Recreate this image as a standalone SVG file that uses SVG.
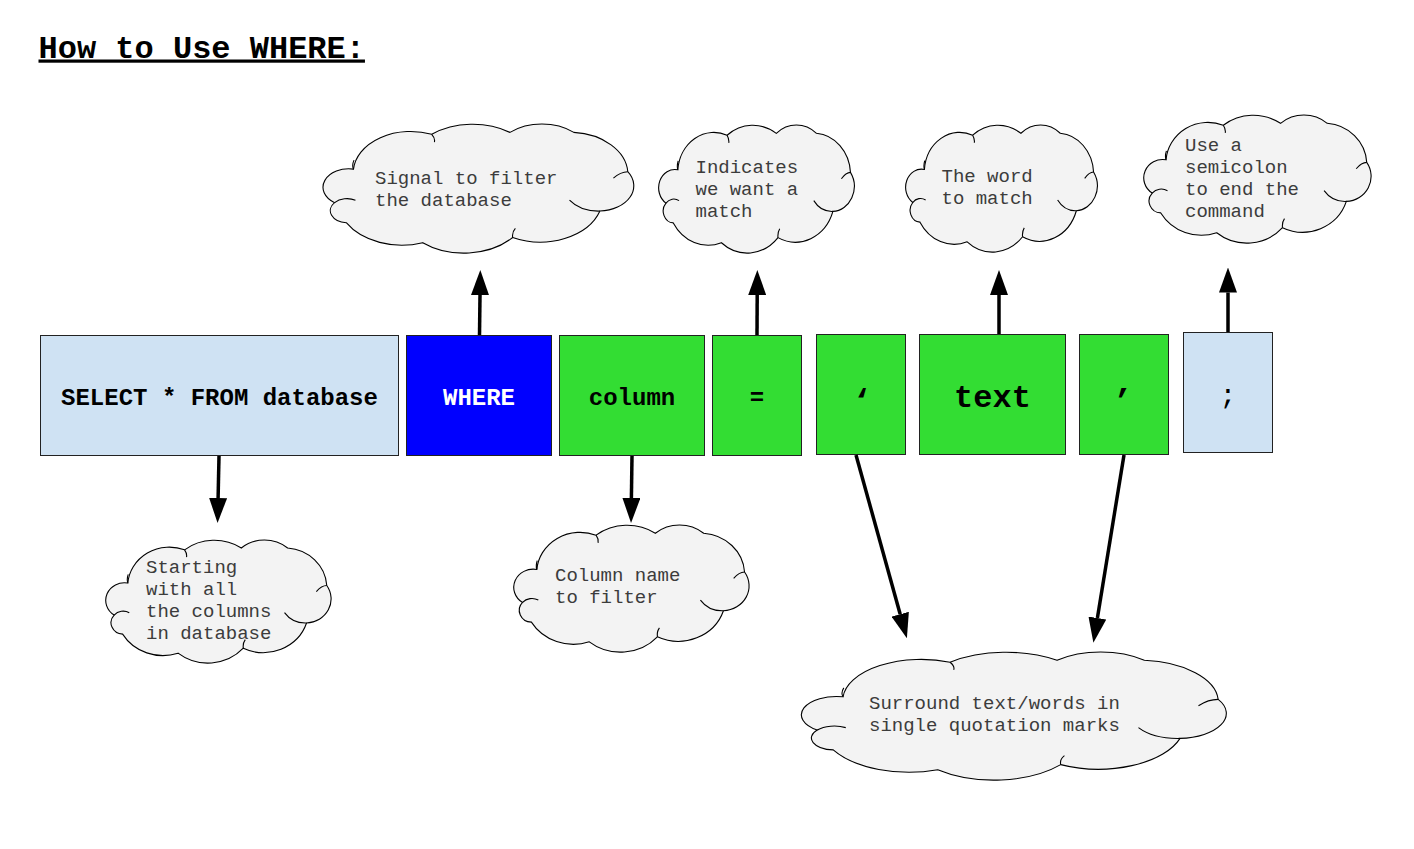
<svg xmlns="http://www.w3.org/2000/svg" xmlns:xlink="http://www.w3.org/1999/xlink" width="1414" height="849" viewBox="0 0 1414 849">
<style>
  .title{font-family:"Liberation Mono","Courier New",monospace;font-weight:bold;font-size:32px;fill:#000;text-decoration:underline}
  .lbl{font-family:"Liberation Mono","Courier New",monospace;font-weight:bold;font-size:24px;text-anchor:middle;fill:#000}
  .big{font-size:32px}
  .note{font-family:"Liberation Mono","Courier New",monospace;font-size:19px;fill:#3c3c3c}
  .box{stroke:#222;stroke-width:1}
  .lblue{fill:#cfe2f3}
  .blue{fill:#0000ff}
  .green{fill:#33dd33}
  .conn line{stroke:#000;stroke-width:3.5;marker-end:url(#ah)}
  .cloud-o{fill:#f3f3f3;stroke:#000;stroke-width:1.1}
  .cloud-t{fill:none;stroke:#000;stroke-width:1.1}
</style>
<defs>
  <marker id="ah" markerUnits="userSpaceOnUse" viewBox="0 0 25 18" markerWidth="25" markerHeight="18" refX="0" refY="9" orient="auto">
    <path d="M0,0 L25,9 L0,18 Z" fill="#000"/>
  </marker>
  <symbol id="cloud" viewBox="0 0 174 100" preserveAspectRatio="none" overflow="visible">
    <path class="cloud-o" vector-effect="non-scaling-stroke" d="M17.5 35 A31.9 31.9 0 0 1 61 8 A37.3 37.3 0 0 1 104.5 6.5 A27.5 27.5 0 0 1 140 6.5 A32.6 32.6 0 0 1 170 37 A19.6 19.6 0 0 1 154.5 67.5 A34.9 34.9 0 0 1 106 88 A36.5 36.5 0 0 1 56 92 A36 36 0 0 1 13.5 76.5 A9.3 9.3 0 0 1 7 61 A14.3 14.3 0 0 1 17.5 35 Z"/>
    <path class="cloud-t" vector-effect="non-scaling-stroke" d="M154.5 67.5 A19.6 19.6 0 0 1 137.6 59.1 M7 61 A9.3 9.3 0 0 1 18.6 59.1 M17.5 35 Q16.5 32 17.8 28 M106 88 Q105.5 84 107.5 81 M61 8 Q63 11 62.5 14 M170 37 Q166 37 162 42"/>
  </symbol>
</defs>

<rect x="0" y="0" width="1414" height="849" fill="#ffffff"/>

<g id="title">
  <text class="title" x="38.5" y="57.5">How to Use WHERE:</text>
</g>

<g id="node-select">
  <rect class="box lblue" x="40.5" y="335.5" width="358" height="120"/>
  <text class="lbl" x="219.5" y="405">SELECT * FROM database</text>
</g>
<g id="node-where">
  <rect class="box blue" x="406.5" y="335.5" width="145" height="120"/>
  <text class="lbl" x="479" y="405" style="fill:#ffffff">WHERE</text>
</g>
<g id="node-column">
  <rect class="box green" x="559.5" y="335.5" width="145" height="120"/>
  <text class="lbl" x="632" y="405">column</text>
</g>
<g id="node-equals">
  <rect class="box green" x="712.5" y="335.5" width="89" height="120"/>
  <text class="lbl" x="757" y="405">=</text>
</g>
<g id="node-quote-open">
  <rect class="box green" x="816.5" y="334.5" width="89" height="120"/>
  <text class="lbl big" x="862" y="411">‘</text>
</g>
<g id="node-text">
  <rect class="box green" x="919.5" y="334.5" width="146" height="120"/>
  <text class="lbl big" x="992.5" y="407">text</text>
</g>
<g id="node-quote-close">
  <rect class="box green" x="1079.5" y="334.5" width="89" height="120"/>
  <text class="lbl big" x="1122.5" y="411">’</text>
</g>
<g id="node-semicolon">
  <rect class="box lblue" x="1183.5" y="332.5" width="89" height="120"/>
  <text class="lbl" x="1228" y="404" style="font-weight:normal;font-size:28px">;</text>
</g>

<g id="cloud-signal">
  <use xlink:href="#cloud" href="#cloud" x="322" y="124" width="313" height="129"/>
  <text class="note"><tspan x="375" y="184">Signal to filter</tspan><tspan x="375" y="206">the database</tspan></text>
</g>
<g id="cloud-indicates">
  <use xlink:href="#cloud" href="#cloud" x="658" y="125" width="197" height="128"/>
  <text class="note"><tspan x="695.5" y="172.5">Indicates</tspan><tspan x="695.5" y="194.5">we want a</tspan><tspan x="695.5" y="216.5">match</tspan></text>
</g>
<g id="cloud-word">
  <use xlink:href="#cloud" href="#cloud" x="905" y="125" width="193" height="127"/>
  <text class="note"><tspan x="941.5" y="182">The word</tspan><tspan x="941.5" y="204">to match</tspan></text>
</g>
<g id="cloud-semicolon">
  <use xlink:href="#cloud" href="#cloud" x="1143" y="115" width="229" height="128"/>
  <text class="note"><tspan x="1185" y="151">Use a</tspan><tspan x="1185" y="173">semicolon</tspan><tspan x="1185" y="195">to end the</tspan><tspan x="1185" y="217">command</tspan></text>
</g>
<g id="cloud-starting">
  <use xlink:href="#cloud" href="#cloud" x="105" y="540" width="227" height="123"/>
  <text class="note"><tspan x="146" y="573">Starting</tspan><tspan x="146" y="595">with all</tspan><tspan x="146" y="617">the columns</tspan><tspan x="146" y="639">in database</tspan></text>
</g>
<g id="cloud-column">
  <use xlink:href="#cloud" href="#cloud" x="513" y="525" width="237" height="127"/>
  <text class="note"><tspan x="555" y="581">Column name</tspan><tspan x="555" y="603">to filter</tspan></text>
</g>
<g id="cloud-surround">
  <use xlink:href="#cloud" href="#cloud" x="800" y="652" width="428" height="128"/>
  <text class="note"><tspan x="869" y="709">Surround text/words in</tspan><tspan x="869" y="731">single quotation marks</tspan></text>
</g>

<g id="connectors" class="conn">
  <line x1="219" y1="456" x2="218.1" y2="498"/>
  <line x1="479.5" y1="335" x2="480" y2="295"/>
  <line x1="632" y1="456" x2="631.4" y2="498"/>
  <line x1="757" y1="335" x2="757.2" y2="295"/>
  <line x1="856" y1="455" x2="900.2" y2="614.2"/>
  <line x1="999" y1="334" x2="999" y2="295"/>
  <line x1="1124" y1="455" x2="1097.4" y2="618"/>
  <line x1="1228" y1="332" x2="1228" y2="292.5"/>
</g>
</svg>
